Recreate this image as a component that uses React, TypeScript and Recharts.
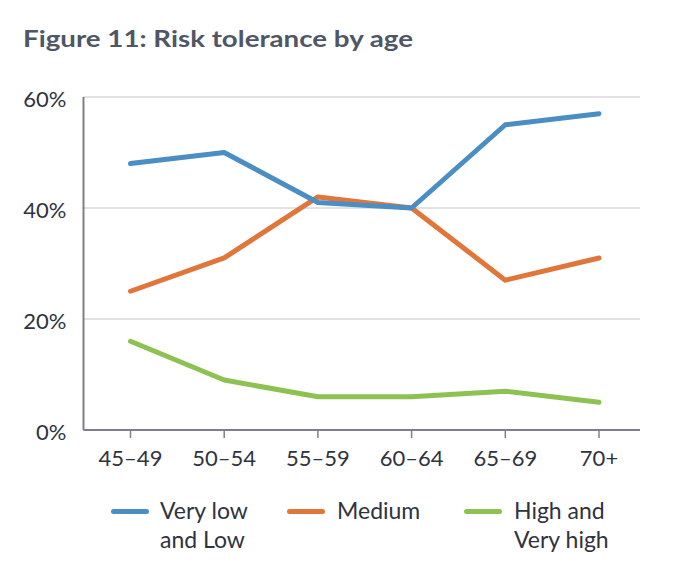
import React from 'react';
import { LineChart, Line, XAxis, YAxis, CartesianGrid } from 'recharts';

const categories = ['45–49', '50–54', '55–59', '60–64', '65–69', '70+'];
const veryLowLow = [48, 50, 41, 40, 55, 57];
const medium = [25, 31, 42, 40, 27, 31];
const highVeryHigh = [16, 9, 6, 6, 7, 5];
const yTicks = [0, 20, 40, 60];

const series = [
  { key: 'low', lines: ['Very low', 'and Low'], color: '#4a8ec3', values: veryLowLow },
  { key: 'medium', lines: ['Medium'], color: '#e0763a', values: medium },
  { key: 'high', lines: ['High and', 'Very high'], color: '#8dc252', values: highVeryHigh },
];

const data = categories.map((c, i) => ({
  cat: c,
  low: veryLowLow[i],
  medium: medium[i],
  high: highVeryHigh[i],
}));

const FONT = 'Lato, "Noto Sans", sans-serif';
const TEXT = '#2f3340';

const legendPos = [
  { line: 110.5, text: 160 },
  { line: 287, text: 337 },
  { line: 463.5, text: 514 },
];

export default function App() {
  const drawOrder = ['high', 'medium', 'low'];
  return (
    <div style={{ position: 'absolute', left: 0, top: 0, width: 680, height: 586, background: '#fff', fontFamily: FONT }}>
      <svg width={680} height={60} style={{ position: 'absolute', left: 0, top: 0 }}>
        <text x={23} y={46.7} fontFamily={FONT} fontWeight={700} fontSize={23} fill="#4f5666" textLength={390} lengthAdjust="spacingAndGlyphs">
          Figure 11: Risk tolerance by age
        </text>
      </svg>
      <LineChart width={680} height={586} data={data} margin={{ top: 97, right: 40, bottom: 116, left: 0 }}>
        <CartesianGrid vertical={false} stroke="#d9d9dd" strokeWidth={1.5} />
        <XAxis
          dataKey="cat"
          scale="point"
          padding={{ left: 47, right: 41 }}
          height={40}
          axisLine={{ stroke: '#7d808c', strokeWidth: 2 }}
          tickLine={{ stroke: '#7d808c', strokeWidth: 1.5 }}
          tickSize={8}
          tickMargin={12}
          tick={{ fill: TEXT, fontSize: 22, fontFamily: FONT }}
          interval={0}
        />
        <YAxis
          width={83.5}
          domain={[0, 60]}
          ticks={yTicks}
          tickFormatter={(v) => `${v}%`}
          axisLine={{ stroke: '#7d808c', strokeWidth: 2 }}
          tickLine={false}
          tickMargin={11}
          tick={{ fill: TEXT, fontSize: 22, fontFamily: FONT, dy: 2 }}
        />
        {drawOrder.map((k) => {
          const s = series.find((x) => x.key === k)!;
          return (
            <Line
              key={k}
              type="linear"
              dataKey={k}
              stroke={s.color}
              strokeWidth={5}
              strokeLinecap="round"
              strokeLinejoin="round"
              dot={false}
              activeDot={false}
              isAnimationActive={false}
            />
          );
        })}
      </LineChart>
      {series.map((s, i) => (
        <React.Fragment key={s.key}>
          <div
            style={{
              position: 'absolute',
              left: legendPos[i].line,
              top: 508.5,
              width: 38,
              height: 5,
              borderRadius: 3,
              background: s.color,
            }}
          />
          <div
            style={{
              position: 'absolute',
              left: legendPos[i].text,
              top: 496,
              fontSize: 23,
              lineHeight: '29px',
              color: TEXT,
              fontFamily: FONT,
              whiteSpace: 'nowrap',
            }}
          >
            {s.lines.map((l) => (
              <div key={l}>{l}</div>
            ))}
          </div>
        </React.Fragment>
      ))}
    </div>
  );
}
